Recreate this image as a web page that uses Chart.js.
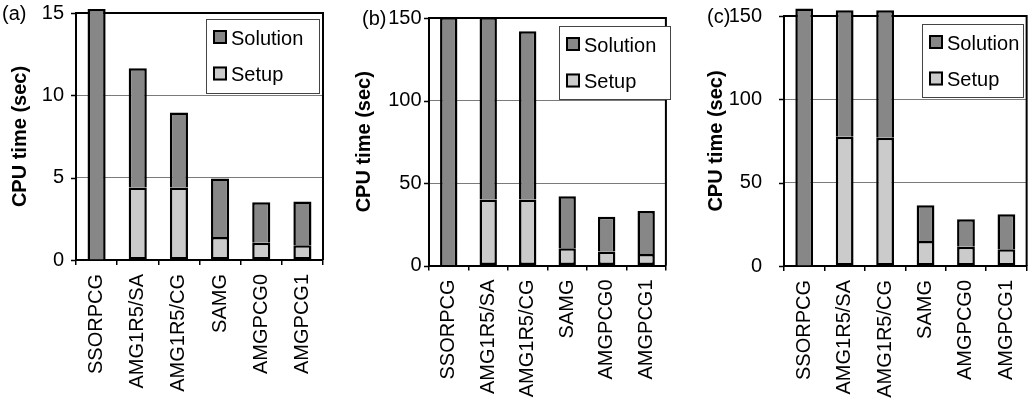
<!DOCTYPE html>
<html>
<head>
<meta charset="utf-8">
<script src="https://cdn.jsdelivr.net/npm/chart.js@4/dist/chart.umd.min.js"></script>
<style>
  html, body { margin: 0; padding: 0; background: #fff; }
  body { width: 1028px; height: 400px; overflow: hidden; position: relative; }
  canvas { position: absolute; top: 0; }
</style>
</head>
<body>
<canvas id="chartA" width="340" height="400" style="left:0px"></canvas>
<canvas id="chartB" width="340" height="400" style="left:340px"></canvas>
<canvas id="chartC" width="360" height="400" style="left:680px"></canvas>
<script>
// categories and values
const methods = ["SSORPCG", "AMG1R5/SA", "AMG1R5/CG", "SAMG", "AMGPCG0", "AMGPCG1"];

const setupA = [0, 4.4, 4.4, 1.4, 1.05, 0.9];
const solutionA = [15.25, 7.25, 4.55, 3.55, 2.45, 2.65];

const setupB = [0, 40, 40, 10.5, 8.5, 7];
const solutionB = [150.5, 110.5, 102, 31.5, 21, 26];

const setupC = [0, 77.5, 77, 15, 11.5, 10];
const solutionC = [154.5, 76, 76.5, 21.5, 16.5, 21];

const yTicksA = [0, 5, 10, 15];
const yTicksBC = [0, 50, 100, 150];

const FONT = "'Liberation Sans', Arial, sans-serif";
const SOLUTION_COLOR = "#878787";
const SETUP_COLOR = "#cbcbcb";

// draws the plot frame, short y ticks, the panel letter and the boxed legend
const panelPlugin = {
  id: "panel",
  beforeDatasetsDraw(chart, args, opts) {
    const { ctx, chartArea } = chart;
    const y = chart.scales.y;
    ctx.save();
    ctx.strokeStyle = "#000";
    ctx.lineWidth = 2;
    ctx.beginPath();
    ctx.moveTo(chartArea.left, chartArea.top);
    ctx.lineTo(chartArea.right, chartArea.top);
    ctx.lineTo(chartArea.right, chartArea.bottom);
    ctx.stroke();

    ctx.lineWidth = 1.5;
    ctx.beginPath();
    y.ticks.forEach((t) => {
      const py = Math.round(y.getPixelForValue(t.value)) + 0.5;
      ctx.moveTo(chartArea.left - 5, py);
      ctx.lineTo(chartArea.left, py);
    });
    ctx.stroke();
    ctx.restore();
  },
  afterDraw(chart, args, opts) {
    const { ctx, chartArea } = chart;
    ctx.save();
    ctx.fillStyle = "#000";
    ctx.font = "20px " + FONT;
    ctx.textBaseline = "middle";
    ctx.textAlign = "left";
    ctx.fillText(opts.letter, opts.letterX, chartArea.top + 1);

    // legend box
    const lg = opts.legend;
    ctx.fillStyle = "#fff";
    ctx.fillRect(lg.left, lg.top, lg.width, lg.height);
    ctx.strokeStyle = "#444";
    ctx.lineWidth = 1;
    ctx.strokeRect(lg.left + 0.5, lg.top + 0.5, lg.width, lg.height);

    // Solution first, Setup below it
    const items = chart.data.datasets.slice().reverse();
    items.forEach((ds, i) => {
      const cy = lg.top + 18 + i * 36.5;
      ctx.fillStyle = ds.backgroundColor;
      ctx.fillRect(lg.left + 7, cy - 7, 14, 14);
      ctx.strokeStyle = "#000";
      ctx.lineWidth = 2;
      ctx.strokeRect(lg.left + 8, cy - 6, 12, 12);
      ctx.fillStyle = "#000";
      ctx.font = "20px " + FONT;
      ctx.textBaseline = "middle";
      ctx.fillText(ds.label, lg.left + 25, cy + 2);
    });
    ctx.restore();
  }
};

const makeChart = (id, setup, solution, yMax, yTicks, cfg) => {
  const ctx = document.getElementById(id).getContext("2d");
  return new Chart(ctx, {
    type: "bar",
    data: {
      labels: methods,
      datasets: [
        {
          label: "Setup",
          data: setup,
          backgroundColor: SETUP_COLOR,
          borderColor: "#000",
          borderWidth: 2.5,
          borderSkipped: false,
          barPercentage: 0.44,
          categoryPercentage: 1,
          clip: false,
        },
        {
          label: "Solution",
          data: solution,
          backgroundColor: SOLUTION_COLOR,
          borderColor: "#000",
          borderWidth: 2.5,
          borderSkipped: "bottom",
          barPercentage: 0.44,
          categoryPercentage: 1,
          clip: false,
        },
      ],
    },
    options: {
      responsive: false,
      animation: false,
      devicePixelRatio: 1,
      layout: { padding: { top: cfg.top, right: cfg.right, bottom: 0, left: 0 } },
      plugins: {
        legend: { display: false },
        tooltip: { enabled: false },
        panel: { letter: cfg.letter, letterX: cfg.letterX, legend: cfg.legend },
      },
      scales: {
        x: {
          stacked: true,
          border: { color: "#000", width: 2 },
          grid: { drawOnChartArea: false, tickColor: "#000", tickLength: 5, lineWidth: 1.5, offset: true },
          ticks: {
            color: "#000",
            font: { family: FONT, size: 20 },
            minRotation: 90,
            maxRotation: 90,
            autoSkip: false,
            padding: 9,
          },
          afterFit: (scale) => { scale.height = cfg.xHeight; },
        },
        y: {
          stacked: true,
          min: 0,
          max: yMax,
          border: { color: "#000", width: 2 },
          // tick length only sets the label gap, the short marks are drawn by the plugin
          grid: { color: "#7a7a7a", lineWidth: 1, tickColor: "rgba(0,0,0,0)", tickLength: cfg.yGap },
          afterBuildTicks: (scale) => { scale.ticks = yTicks.map((v) => ({ value: v })); },
          ticks: {
            color: "#000",
            font: { family: FONT, size: 20 },
            padding: 0,
          },
          title: {
            display: true,
            text: "CPU time (sec)",
            color: "#000",
            font: { family: FONT, size: 20, weight: "bold" },
            padding: { top: cfg.titlePad, bottom: 0 },
          },
          afterFit: (scale) => { scale.width = cfg.yWidth; },
        },
      },
    },
    plugins: [panelPlugin],
  });
};

makeChart("chartA", setupA, solutionA, 15, yTicksA, {
  top: 13, right: 17, xHeight: 140, yWidth: 76, yGap: 12, titlePad: 8,
  letter: "(a)", letterX: 2,
  legend: { left: 206, top: 19, width: 113, height: 74 },
});

makeChart("chartB", setupB, solutionB, 150, yTicksBC, {
  top: 18, right: 10, xHeight: 134.5, yWidth: 89, yGap: 7.5, titlePad: 12,
  letter: "(b)", letterX: 22,
  legend: { left: 219, top: 26, width: 111, height: 73 },
});

makeChart("chartC", setupC, solutionC, 150, yTicksBC, {
  top: 16, right: 7, xHeight: 134, yWidth: 104, yGap: 22, titlePad: 24.5,
  letter: "(c)", letterX: 27,
  legend: { left: 242, top: 24, width: 101, height: 73 },
});
</script>
</body>
</html>
